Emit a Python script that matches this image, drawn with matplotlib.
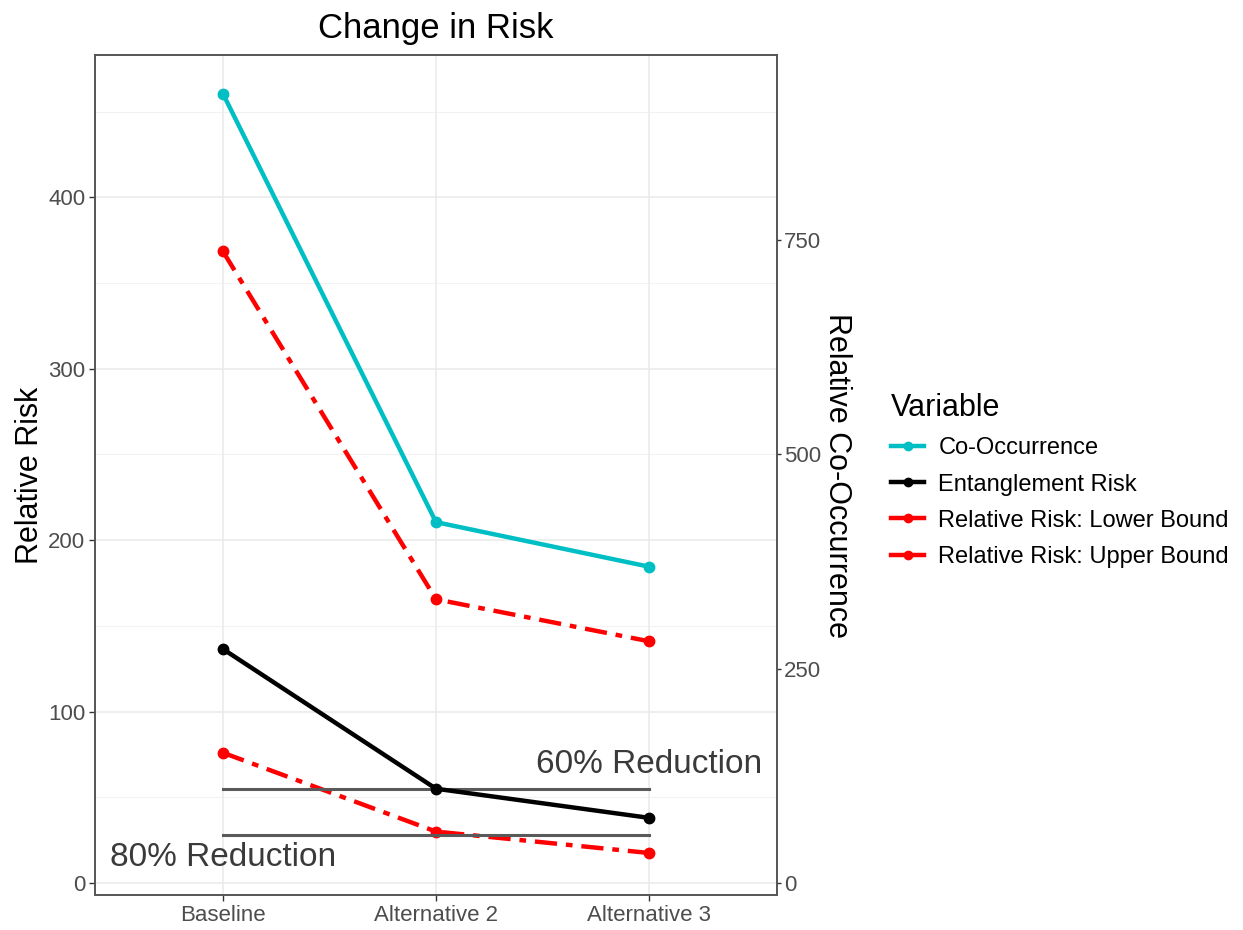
import matplotlib
matplotlib.use("Agg")
import matplotlib.pyplot as plt
from matplotlib.lines import Line2D
import numpy as np

plt.rcParams["font.family"] = ["Liberation Sans", "DejaVu Sans"]

categories = ["Baseline", "Alternative 2", "Alternative 3"]
co_occurrence = [460.5, 210.5, 184.5]       # plotted on left scale (right axis = 2x)
entanglement = [136.5, 55.0, 38.0]
rr_lower = [368.5, 165.5, 141.0]
rr_upper = [76.0, 30.0, 17.5]
reduction_levels = [55.0, 28.0]
reduction_labels = ["60% Reduction", "80% Reduction"]
left_ticks = [0, 100, 200, 300, 400]
right_ticks = [0, 250, 500, 750]
sec_factor = 2.0

CYAN = "#00BFC4"
RED = "#FF0000"
BLACK = "#000000"
TICK_C = "#4D4D4D"

fig = plt.figure(figsize=(12.43, 9.3), dpi=100, facecolor="white")
ax = fig.add_axes([95 / 1243, 1 - 895 / 930, (777 - 95) / 1243, (895 - 55) / 930])
x = np.arange(1, len(categories) + 1)

ax.set_xlim(0.4, 3.6)
ax.set_ylim(-7, 483)

# grid
for v in np.arange(50, 483, 100):
    ax.axhline(v, color="#F2F2F2", lw=0.8, zorder=0)
for v in left_ticks:
    ax.axhline(v, color="#EBEBEB", lw=1.2, zorder=0)
for xv in x:
    ax.axvline(xv, color="#EBEBEB", lw=1.2, zorder=0)

lw = 3.2
ms = 7.5
dash = (5, 2, 1.5, 2)
ax.plot(x, co_occurrence, color=CYAN, lw=lw, marker="o", ms=ms, zorder=3)
ax.plot(x, rr_lower, color=RED, lw=lw, marker="o", ms=ms, dashes=dash, zorder=3)
ax.plot(x, rr_upper, color=RED, lw=lw, marker="o", ms=ms, dashes=dash, zorder=3)
ax.plot(x, entanglement, color=BLACK, lw=lw, marker="o", ms=ms, zorder=4)

for lvl in reduction_levels:
    ax.plot([x[0], x[-1]], [lvl, lvl], color="#5A5A5A", lw=2.2, zorder=3.5)

ax.text(3, 69, reduction_labels[0], ha="center", va="center", fontsize=24, color="#3A3A3A", zorder=5)
ax.text(1, 15, reduction_labels[1], ha="center", va="center", fontsize=24, color="#3A3A3A", zorder=5)

ax.set_xticks(x)
ax.set_xticklabels(categories, fontsize=16, color=TICK_C)
ax.set_yticks(left_ticks)
ax.set_yticklabels([str(t) for t in left_ticks], fontsize=16, color=TICK_C)
ax.tick_params(length=4, color="#333333", width=1, pad=3)
ax.set_ylabel("Relative Risk", fontsize=22, labelpad=2)
ax.set_title("Change in Risk", fontsize=25, pad=12)
for sp in ax.spines.values():
    sp.set_edgecolor("#555555")
    sp.set_linewidth(1.2)

ax2 = ax.twinx()
ax2.set_ylim(-7 * sec_factor, 483 * sec_factor)
ax2.set_yticks(right_ticks)
ax2.set_yticklabels([str(t) for t in right_ticks], fontsize=16, color=TICK_C)
ax2.tick_params(length=3, color="#333333", width=1, pad=2)
ax2.set_ylabel("Relative Co-Occurrence", fontsize=22, rotation=270, labelpad=22)
for sp in ax2.spines.values():
    sp.set_edgecolor("#555555")
    sp.set_linewidth(1.2)

handles = [
    Line2D([], [], color=CYAN, lw=lw, marker="o", ms=6),
    Line2D([], [], color=BLACK, lw=lw, marker="o", ms=6),
    Line2D([], [], color=RED, lw=lw, marker="o", ms=6),
    Line2D([], [], color=RED, lw=lw, marker="o", ms=6),
]
labels = ["Co-Occurrence", "Entanglement Risk",
          "Relative Risk: Lower Bound", "Relative Risk: Upper Bound"]
leg = fig.legend(handles, labels, title="Variable", loc="upper left",
                 bbox_to_anchor=(870 / 1243, 1 - 372 / 930), frameon=False,
                 fontsize=17, title_fontsize=22, handlelength=1.4,
                 handletextpad=0.6, labelspacing=0.6)
leg._legend_box.align = "left"

fig.savefig("out.png", dpi=100, facecolor="white")
